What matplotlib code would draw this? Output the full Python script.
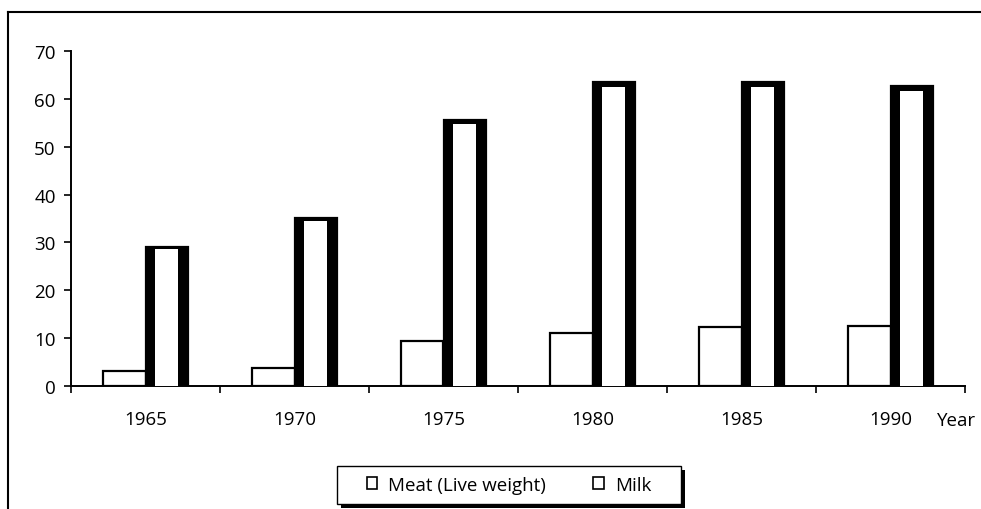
import matplotlib
matplotlib.use("Agg")
import matplotlib.pyplot as plt
import numpy as np
from matplotlib.patches import Rectangle
from matplotlib.lines import Line2D

years = ["1965", "1970", "1975", "1980", "1985", "1990"]
meat = [3.2, 3.7, 9.4, 11.0, 12.3, 12.6]
milk = [29.0, 35.1, 55.6, 63.5, 63.5, 62.6]
yticks = [0, 10, 20, 30, 40, 50, 60, 70]

plt.rcParams['font.family'] = ['Open Sans', 'DejaVu Sans']
FS = 13.5

fig = plt.figure(figsize=(9.81, 5.10), dpi=100)
ax = fig.add_axes([71/981, 1-387/510, (965-71)/981, (387-52)/510])

x = np.arange(len(years))
w = 0.285
ax.bar(x - w/2, meat, width=w, color='white', edgecolor='black', linewidth=1.6, zorder=3)
ax.bar(x + w/2, milk, width=w, color='black', edgecolor='black', linewidth=1.6, zorder=3)
ax.bar(x + w/2, [v*0.985 for v in milk], width=w*0.55, color='white', edgecolor='none', zorder=4)

ax.set_xlim(-0.5, len(years) - 0.5)
ax.set_ylim(0, 70)
ax.set_yticks(yticks)
ax.set_xticks(x)
ax.set_xticklabels(years)
ax.set_xticks(np.arange(-0.5, len(years)), minor=True)
ax.tick_params(axis='x', which='major', length=0, pad=17, labelsize=FS)
ax.tick_params(axis='x', which='minor', length=5, width=1.2, direction='out')
ax.tick_params(axis='y', length=5, width=1.2, direction='out', labelsize=FS, pad=6)
for s in ['top', 'right']:
    ax.spines[s].set_visible(False)
for s in ['left', 'bottom']:
    ax.spines[s].set_linewidth(1.4)
fig.text(937/981, 1-421/510, "Year", fontsize=FS, ha='left', va='center')

# legend frame (drawn manually with shadow)
lx0, lx1, ly0, ly1 = 337/981, 681/981, 1-505/510, 1-467/510
fig.add_artist(Rectangle((lx0 + 4/981, ly0 - 4/510), lx1 - lx0, ly1 - ly0,
                         transform=fig.transFigure, facecolor='black', edgecolor='none', zorder=1))
fig.add_artist(Rectangle((lx0, ly0), lx1 - lx0, ly1 - ly0, transform=fig.transFigure,
                         facecolor='white', edgecolor='black', linewidth=1.0, zorder=2))

h1 = Rectangle((0, 0), 1, 1, facecolor='white', edgecolor='black', linewidth=1.2)
h2 = Rectangle((0, 0), 1, 1, facecolor='white', edgecolor='black', linewidth=1.2)
leg = fig.legend([h1, h2], ["Meat (Live weight)", "Milk"], ncol=2,
                 loc='center', bbox_to_anchor=((lx0 + lx1)/2, (ly0 + ly1)/2),
                 frameon=False, fontsize=FS, handlelength=0.55, handleheight=0.6,
                 columnspacing=2.5, borderpad=0.2, handletextpad=0.6, borderaxespad=0)
leg.set_zorder(3)

# outer border
fig.add_artist(Line2D([8/981, 1.01], [1-13/510, 1-13/510], color='black', lw=1.5, transform=fig.transFigure))
fig.add_artist(Line2D([8/981, 8/981], [-0.01, 1-13/510], color='black', lw=1.5, transform=fig.transFigure))

fig.savefig("out.png", dpi=100, facecolor='white')
